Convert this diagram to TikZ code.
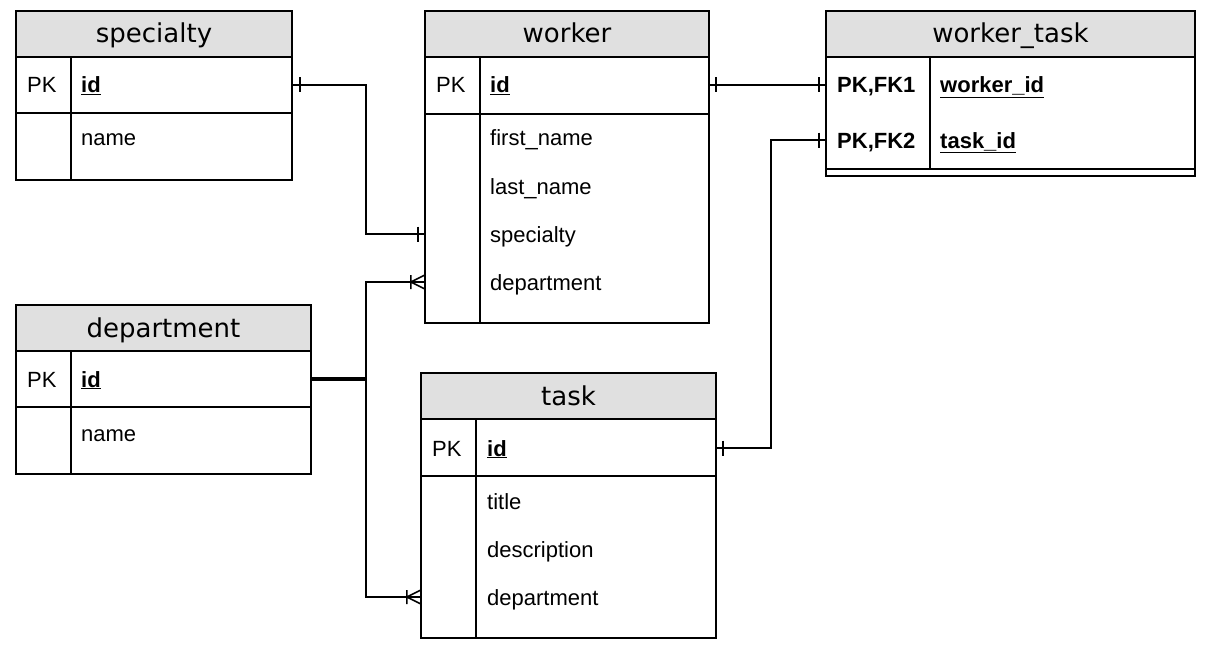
\documentclass[tikz,border=0pt]{standalone}
\usepackage{fontspec}
\setmainfont{Liberation Sans}
\newfontfamily\headfont{DejaVu Sans}
\usetikzlibrary{decorations.markings}
\definecolor{headgray}{RGB}{224,224,224}
\tikzset{
  tbl/.style={line width=2.4pt},
  head/.style={draw, line width=2.4pt, fill=headgray, anchor=north west, outer sep=0pt, inner sep=0pt,
    minimum height=46pt, font=\headfont\fontsize{26}{30}\selectfont, text height=19pt, text depth=1pt},
  key/.style={anchor=west, inner sep=0pt, font=\fontsize{22}{25}\selectfont, text height=18pt, text depth=2pt},
  field/.style={key},
  rel/.style={line width=2pt},
  bar at/.style={postaction={decorate, decoration={markings,
    mark=at position #1 with {\draw[line width=2pt] (0,-7.5) -- (0,7.5);}}}},
  crow end/.style={postaction={decorate, decoration={markings,
    mark=at position -0.1pt with {\draw[line width=1.6pt] (-14,-7) -- (-14,7) (0,-7) -- (-14,0) -- (0,7);}}}},
}
\begin{document}
\begin{tikzpicture}[x=1pt, y=-1pt]
\useasboundingbox (0,0) rectangle (1214,650);

% specialty
\draw[tbl] (16,11) rectangle (292,180);
\draw[tbl] (16,113) -- (292,113) (71,57) -- (71,180);
\node[head, minimum width=276pt] (spec-h) at (16,11) {specialty};
\node[key] (spec-pk) at (27,85) {PK};
\node[field] (spec-id) at (81,85) {\textbf{\underline{id}}};
\node[field] (spec-name) at (81,138) {name};

% worker
\draw[tbl] (425,11) rectangle (709,323);
\draw[tbl] (425,114) -- (709,114) (480,57) -- (480,323);
\node[head, minimum width=284pt] (wk-h) at (425,11) {worker};
\node[key] (wk-pk) at (436,85) {PK};
\node[field] (wk-id) at (490,85) {\textbf{\underline{id}}};
\foreach \n/\t/\y in {first/first\_name/138, last/last\_name/186, spec/specialty/234, dept/department/282}
  \node[field] (wk-\n) at (490,\y) {\t};

% worker_task
\draw[tbl] (826,11) rectangle (1195,176);
\draw[tbl] (826,169) -- (1195,169) (930,57) -- (930,169);
\node[head, minimum width=369pt] (wt-h) at (826,11) {worker\_task};
\node[key] (wt-k1) at (837,85) {\textbf{PK,FK1}};
\node[field] (wt-wid) at (940,85) {\textbf{\underline{worker\_id}}};
\node[key] (wt-k2) at (837,140) {\textbf{PK,FK2}};
\node[field] (wt-tid) at (940,140) {\textbf{\underline{task\_id}}};

% department
\draw[tbl] (16,305) rectangle (311,474);
\draw[tbl] (16,407) -- (311,407) (71,352) -- (71,474);
\node[head, minimum width=295pt] (dp-h) at (16,305) {department};
\node[key] (dp-pk) at (27,379) {PK};
\node[field] (dp-id) at (81,379) {\textbf{\underline{id}}};
\node[field] (dp-name) at (81,433) {name};

% task
\draw[tbl] (421,373) rectangle (716,638);
\draw[tbl] (421,476) -- (716,476) (476,420) -- (476,638);
\node[head, minimum width=295pt] (tk-h) at (421,373) {task};
\node[key] (tk-pk) at (432,448) {PK};
\node[field] (tk-id) at (487,448) {\textbf{\underline{id}}};
\foreach \n/\t/\y in {title/title/501, desc/description/549, dept/department/597}
  \node[field] (tk-\n) at (487,\y) {\t};

% relations
\draw[rel, bar at=8pt, bar at=-7pt] (spec-h.east |- spec-id) -- ++(74,0) |- (wk-h.west |- wk-spec);
\draw[rel, bar at=7pt, bar at=-7pt] (wk-h.east |- wk-id) -- (wt-h.west |- wt-wid);
\draw[rel, bar at=7pt, bar at=-7pt] (tk-h.east |- tk-id) -- ++(55,0) |- (wt-h.west |- wt-tid);
\coordinate (dp-out) at (dp-h.east |- dp-id);
\draw[rel, crow end] ([yshift=1.2pt]dp-out) -- ++(55,0) |- (wk-h.west |- wk-dept);
\draw[rel, crow end] ([yshift=-1.2pt]dp-out) -- ++(55,0) |- (tk-h.west |- tk-dept);
\end{tikzpicture}
\end{document}
